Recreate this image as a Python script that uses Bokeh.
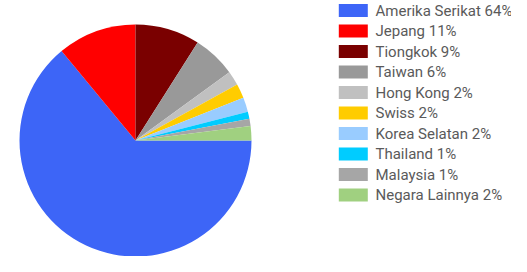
import math
from bokeh.plotting import figure
from bokeh.models import ColumnDataSource, Range1d
from bokeh.core.properties import value
from bokeh.embed import file_html
from bokeh.resources import INLINE

countries = ["Amerika Serikat", "Jepang", "Tiongkok", "Taiwan", "Hong Kong",
             "Swiss", "Korea Selatan", "Thailand", "Malaysia", "Negara Lainnya"]
shares = [64, 11, 9, 6, 2, 2, 2, 1, 1, 2]
colors = ["#3D65F7", "#FF0000", "#7A0000", "#999999", "#C0C0C0",
          "#FFCC00", "#99CCFF", "#00CCFF", "#A6A6A6", "#A0D080"]
labels = [f"{c} {s}%" for c, s in zip(countries, shares)]

W, H = 511, 256
p = figure(width=W, height=H, output_backend="svg", toolbar_location=None,
           x_range=Range1d(0, W), y_range=Range1d(0, H),
           min_border=0, outline_line_color=None)
p.axis.visible = False
p.grid.visible = False

# pie: starts at 3 o'clock, runs clockwise in legend order
total = sum(shares)
ends, starts = [], []
acc = 0.0
for s in shares:
    a0 = -2 * math.pi * acc / total
    acc += s
    a1 = -2 * math.pi * acc / total
    starts.append(a1)
    ends.append(a0)

cx, cy, r = 135, H - 140, 116
pie = ColumnDataSource(dict(start=starts, end=ends, color=colors,
                            x=[cx] * len(shares), y=[cy] * len(shares)))
p.wedge(x="x", y="y", radius=r, start_angle="start", end_angle="end",
        direction="anticlock", fill_color="color", line_color=None, source=pie)

# legend
row0, step = H - 10, 20.5
ys = [row0 - step * i for i in range(len(labels))]
leg = ColumnDataSource(dict(y=ys, color=colors, label=labels,
                            sx=[352.8] * len(labels), tx=[375] * len(labels)))
p.rect(x="sx", y="y", width=29, height=13, fill_color="color",
       line_color=None, source=leg)
p.text(x="tx", y="y", text="label", text_font=value("Roboto"),
       text_font_size="15px", text_color="#5A5A5A", text_baseline="middle",
       source=leg)

open("out.html", "w").write(file_html(p, INLINE))
